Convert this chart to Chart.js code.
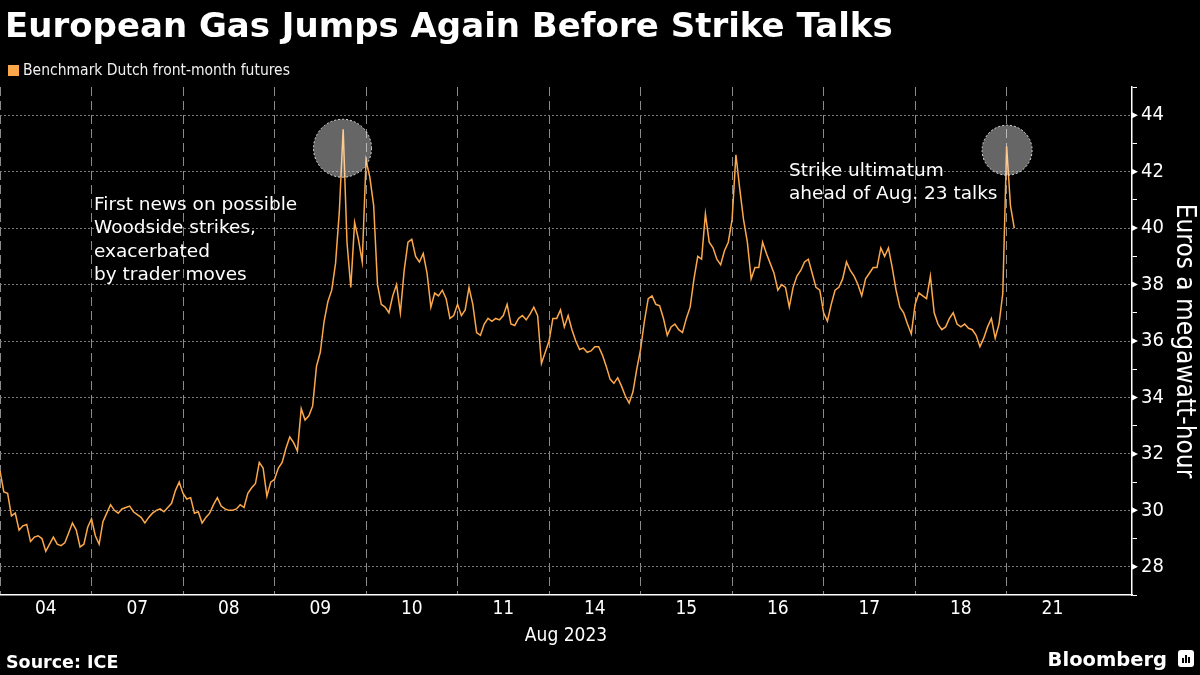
<!DOCTYPE html>
<html>
<head>
<meta charset="utf-8">
<script src="https://cdn.jsdelivr.net/npm/chart.js@4.4.1/dist/chart.umd.min.js"></script>
<style>
  html, body { margin: 0; padding: 0; background: #000; }
  #wrap { position: relative; width: 1200px; height: 675px; overflow: hidden; background: #000; }
  #c { position: absolute; left: 0; top: 0; }
  .txt { position: absolute; color: #fff; white-space: nowrap; font-family: "DejaVu Sans", sans-serif; }
  #title { left: 5px; top: 5px; font-size: 34px; line-height: 40px; font-weight: bold; }
  #legend { left: 8px; top: 60px; font-size: 15.5px; line-height: 20px; font-family: "DejaVu Sans Condensed", "DejaVu Sans", sans-serif; color: #f0f0f0; }
  #legend .sw { display: inline-block; width: 11px; height: 11px; background: #fca84a; margin-right: 4px; vertical-align: -1px; }
  .note { font-size: 18.5px; line-height: 23.3px; }
  #note1 { left: 94px; top: 192px; }
  #note2 { left: 789px; top: 158px; }
  #source { left: 6px; top: 652px; font-size: 17.5px; line-height: 20px; font-weight: bold; }
  #brand { right: 33px; top: 649px; font-size: 19.5px; line-height: 22px; font-weight: bold; }
  #icon { position: absolute; left: 1178px; top: 650px; width: 16px; height: 17px; background: #fff; border-radius: 3px; }
  #icon i { position: absolute; bottom: 4px; width: 2px; background: #000; }
</style>
</head>
<body>
<div id="wrap">
  <canvas id="c" width="1200" height="675"></canvas>
  <div id="title" class="txt">European Gas Jumps Again Before Strike Talks</div>
  <div id="legend" class="txt"><span class="sw"></span>Benchmark Dutch front-month futures</div>
  <div id="note1" class="txt note">First news on possible<br>Woodside strikes,<br>exacerbated<br>by trader moves</div>
  <div id="note2" class="txt note">Strike ultimatum<br>ahead of Aug. 23 talks</div>
  <div id="source" class="txt">Source: ICE</div>
  <div id="brand" class="txt">Bloomberg</div>
  <div id="icon"><i style="left:4px;height:5px"></i><i style="left:7px;height:8px"></i><i style="left:10px;height:6px"></i></div>
</div>
<script>
// Trading-day labels (Aug 2023)
const dayLabels = ['04', '07', '08', '09', '10', '11', '14', '15', '16', '17', '18', '21'];

// Intraday prices (EUR/MWh), evenly spaced samples through each session
const aug04 = [31.4, 30.65, 30.6, 29.8, 29.9, 29.3, 29.45, 29.5, 28.9, 29.05, 29.1, 29.0, 28.55, 28.8, 29.05, 28.8, 28.75, 28.85, 29.2, 29.55, 29.3, 28.7, 28.8, 29.4];
const aug07 = [29.7, 29.1, 28.8, 29.6, 29.9, 30.2, 30.0, 29.9, 30.05, 30.1, 30.15, 29.95, 29.85, 29.75, 29.55, 29.75, 29.9, 30.0, 30.05, 29.95, 30.1, 30.25, 30.7, 31.0];
const aug08 = [30.6, 30.4, 30.45, 29.9, 29.95, 29.55, 29.75, 29.9, 30.2, 30.45, 30.15, 30.05, 30.0, 30.0, 30.05, 30.2, 30.1, 30.6, 30.8, 30.95, 31.7, 31.5, 30.5, 31.0];
const aug09 = [31.1, 31.5, 31.7, 32.2, 32.6, 32.4, 32.1, 33.6, 33.2, 33.35, 33.7, 35.1, 35.6, 36.7, 37.4, 37.8, 38.75, 40.6, 43.5, 39.5, 37.9, 40.2, 39.6, 38.8];
const aug10 = [42.4, 41.8, 40.8, 38.0, 37.3, 37.2, 37.0, 37.6, 38.0, 37.0, 38.5, 39.5, 39.6, 39.0, 38.8, 39.1, 38.4, 37.2, 37.7, 37.6, 37.8, 37.5, 36.8, 36.9];
const aug11 = [37.3, 36.9, 37.1, 37.9, 37.3, 36.3, 36.2, 36.6, 36.8, 36.7, 36.8, 36.75, 36.9, 37.3, 36.6, 36.55, 36.8, 36.9, 36.75, 36.95, 37.2, 36.9, 35.2, 35.6];
const aug14 = [36.0, 36.8, 36.8, 37.1, 36.5, 36.9, 36.4, 36.0, 35.7, 35.75, 35.6, 35.65, 35.8, 35.8, 35.5, 35.1, 34.65, 34.5, 34.7, 34.4, 34.05, 33.8, 34.2, 35.0];
const aug15 = [35.7, 36.7, 37.5, 37.6, 37.3, 37.25, 36.8, 36.2, 36.5, 36.6, 36.4, 36.3, 36.8, 37.2, 38.2, 39.0, 38.9, 40.5, 39.5, 39.3, 38.9, 38.7, 39.2, 39.5];
const aug16 = [40.3, 42.6, 41.4, 40.3, 39.5, 38.2, 38.6, 38.6, 39.5, 39.1, 38.75, 38.4, 37.8, 38.0, 37.9, 37.2, 37.9, 38.3, 38.5, 38.8, 38.9, 38.4, 37.9, 37.8];
const aug17 = [37.0, 36.7, 37.3, 37.8, 37.9, 38.2, 38.8, 38.5, 38.3, 38.0, 37.6, 38.2, 38.4, 38.6, 38.6, 39.3, 39.0, 39.3, 38.6, 37.8, 37.2, 37.0, 36.6, 36.25];
const aug18 = [37.3, 37.7, 37.6, 37.5, 38.3, 37.0, 36.6, 36.4, 36.5, 36.8, 37.0, 36.6, 36.5, 36.6, 36.45, 36.4, 36.2, 35.8, 36.1, 36.5, 36.8, 36.1, 36.6, 37.7];
const aug21 = [42.9, 40.8, 40.0];

const samplesPerDay = 24;
const dailyPrices = [aug04, aug07, aug08, aug09, aug10, aug11, aug14, aug15, aug16, aug17, aug18, aug21];

// Highlighted moments (day position, price level)
const highlightDays = [3.743, 11.005];
const highlightValues = [42.83, 42.76];

const yMin = 27, yMax = 45;
const xMax = 12.37;

const points = [];
dailyPrices.forEach((arr, d) => {
  arr.forEach((v, j) => points.push({ x: d + j / samplesPerDay, y: v }));
});

const TICK_FONT = '"DejaVu Sans Condensed", "DejaVu Sans", sans-serif';

const highlightPlugin = {
  id: 'highlights',
  afterDatasetsDraw(chart) {
    const { ctx, scales } = chart;
    const radii = [29, 25];
    highlightDays.forEach((d, i) => {
      const cx = scales.x.getPixelForValue(d);
      const cy = scales.y.getPixelForValue(highlightValues[i]);
      ctx.save();
      ctx.beginPath();
      ctx.arc(cx, cy, radii[i], 0, Math.PI * 2);
      ctx.fillStyle = 'rgba(255,255,255,0.4)';
      ctx.fill();
      ctx.setLineDash([2, 2]);
      ctx.lineWidth = 1;
      ctx.strokeStyle = '#e0e0e0';
      ctx.stroke();
      ctx.restore();
    });
  },
  afterDraw(chart) {
    // small arrow-head markers at the labelled y ticks
    const { ctx, scales } = chart;
    const ys = scales.y;
    const x0 = ys.left;
    ctx.save();
    ctx.fillStyle = '#ffffff';
    ys.ticks.forEach(t => {
      if (t.value % 2 !== 0) return;
      const y = ys.getPixelForValue(t.value);
      ctx.beginPath();
      ctx.moveTo(x0, y - 3);
      ctx.lineTo(x0 + 6, y);
      ctx.lineTo(x0, y + 3);
      ctx.closePath();
      ctx.fill();
    });
    ctx.restore();
  }
};

new Chart(document.getElementById('c'), {
  type: 'line',
  data: {
    datasets: [{
      label: 'Benchmark Dutch front-month futures',
      data: points,
      borderColor: '#fca84a',
      borderWidth: 1.5,
      pointRadius: 0,
      tension: 0,
      fill: false
    }]
  },
  options: {
    responsive: false,
    devicePixelRatio: 1,
    animation: false,
    layout: { padding: { top: 87, left: 0, right: 0, bottom: 0 } },
    plugins: { legend: { display: false }, title: { display: false }, tooltip: { enabled: false } },
    scales: {
      x: {
        type: 'linear', position: 'bottom', min: 0, max: xMax,
        grid: { display: false, drawTicks: false },
        border: { display: true, color: '#ffffff', width: 1.5 },
        afterBuildTicks: s => { s.ticks = dayLabels.map((_, i) => ({ value: i + 0.5 })); },
        ticks: {
          color: '#ffffff', font: { family: TICK_FONT, size: 19 }, padding: 3,
          maxRotation: 0, autoSkip: false,
          callback: v => dayLabels[Math.floor(v)]
        },
        title: { display: true, text: 'Aug 2023', color: '#ffffff', font: { family: TICK_FONT, size: 19 }, padding: { top: 0, bottom: 28 } },
        afterFit: s => { s.height = 80; }
      },
      xg: {
        type: 'linear', position: 'top', min: 0, max: xMax,
        afterBuildTicks: s => { s.ticks = dayLabels.map((_, i) => ({ value: i })); },
        ticks: { display: false },
        grid: { color: '#8a8a8a', lineWidth: 1, drawTicks: false },
        border: { display: false, dash: [9, 5] },
        afterFit: s => { s.height = 0; }
      },
      y: {
        type: 'linear', position: 'right', min: yMin, max: yMax,
        afterBuildTicks: s => { const t = []; for (let v = yMin; v <= yMax; v++) t.push({ value: v }); s.ticks = t; },
        ticks: {
          color: '#ffffff', font: { family: TICK_FONT, size: 20 }, padding: 4, autoSkip: false,
          callback: v => (v % 2 === 0 ? String(v) : '')
        },
        grid: {
          color: c => (c.tick && c.tick.value % 2 === 0 ? '#7a7a7a' : 'rgba(0,0,0,0)'),
          tickColor: c => (c.tick && c.tick.value % 2 === 0 ? 'rgba(0,0,0,0)' : '#ffffff'),
          tickLength: 5, lineWidth: 1
        },
        border: { color: '#ffffff', width: 1.5, dash: [2, 2] },
        title: { display: true, text: 'Euros a megawatt-hour', color: '#ffffff', font: { family: TICK_FONT, size: 26 }, padding: { top: 1, bottom: 0 } },
        afterFit: s => { s.width = 68; }
      }
    }
  },
  plugins: [highlightPlugin]
});
</script>
</body>
</html>
